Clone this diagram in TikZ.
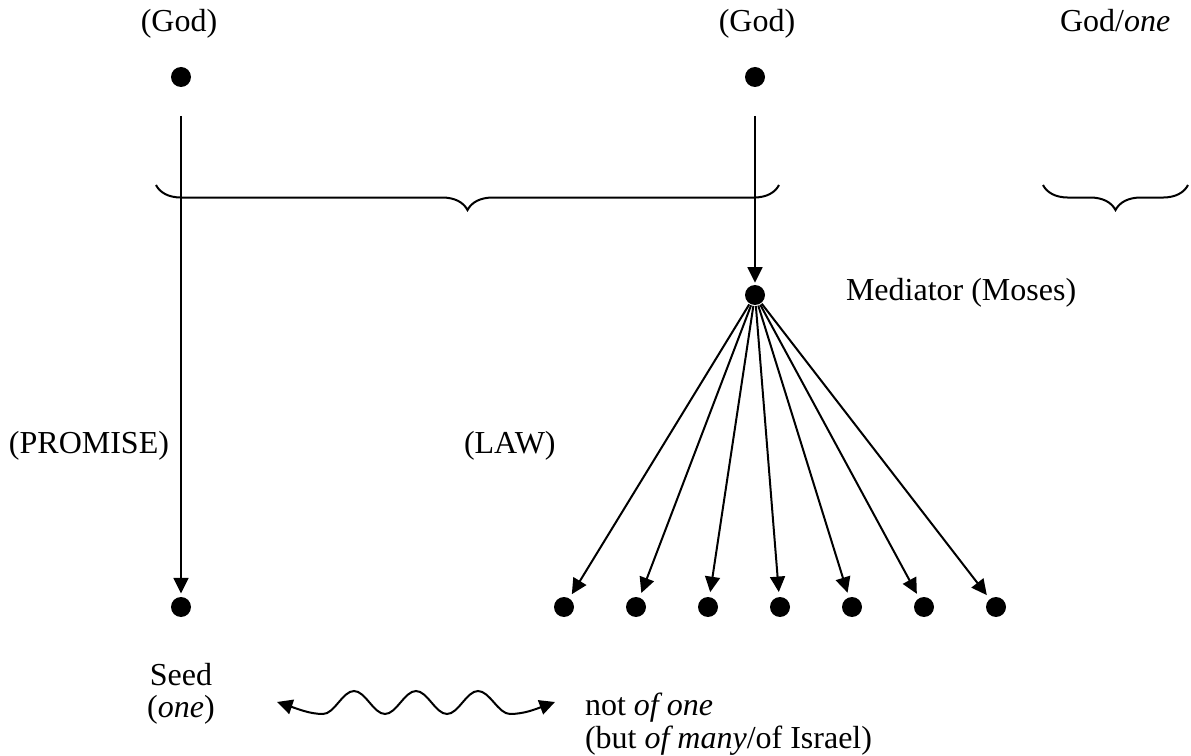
\documentclass[tikz,border=0pt]{standalone}
\usepackage{fontspec}
\setmainfont{Liberation Serif}
\usetikzlibrary{arrows.meta, decorations.pathreplacing}

\begin{document}
\begin{tikzpicture}[x=0.375pt, y=-0.375pt, line width=0.75pt,
    dot/.style={circle, fill, inner sep=0pt, minimum size=7.5pt},
    lbl/.style={inner sep=0pt, font=\fontsize{12}{14}\selectfont},
    arr/.style={-{Triangle[length=5.8pt, width=5.6pt]}},
    grp/.style={decorate, decoration={brace, mirror, amplitude=9.4pt}}]
    \useasboundingbox (0,0) rectangle (1191,756);
    % top row
    \node[lbl, anchor=base] (tgod1) at (179,32) {(God)};
    \node[lbl, anchor=base] (tgod2) at (757,32) {(God)};
    \node[lbl, anchor=base west] (tgod3) at (1059,32) {God/\textit{one}};
    \node[dot] (god1) at (181,77) {};
    \node[dot] (god2) at (755,77) {};
    % braces
    \coordinate (bl1) at (156,185);
    \coordinate (br1) at (779,185);
    \coordinate (bl2) at (1043,185);
    \coordinate (br2) at (1188,185);
    \draw[grp] (bl1) -- (br1);
    \draw[grp] (bl2) -- (br2);
    % mediator
    \node[dot] (med) at (755,295) {};
    \node[lbl, anchor=base west] (tmed) at (845,301) {Mediator (Moses)};
    \draw[arr, shorten <=10.5pt, shorten >=0.5pt] (god2) -- (med);
    % promise
    \node[lbl, anchor=base west] (tprom) at (8,453) {(PROMISE)};
    \node[dot] (seed) at (181,607) {};
    \draw[arr, shorten <=10.5pt, shorten >=1pt] (god1) -- (seed);
    % law
    \node[lbl, anchor=base west] (tlaw) at (463,453) {(LAW)};
    \foreach \x [count=\i] in {564,636,708,780,852,924,996}
        \node[dot] (b\i) at (\x,607) {};
    \foreach \i in {1,...,7}
        \draw[arr, shorten >=1.5pt] (med) -- (b\i);
    % bottom texts
    \node[lbl, anchor=base] (tseed) at (181,685) {Seed};
    \node[lbl, anchor=base] (tone) at (181,717) {(\textit{one})};
    \node[lbl, anchor=base west] (tnot) at (584,716) {not \textit{of one}};
    \node[lbl, anchor=base west] (tmany) at (584,748) {(but \textit{of many}/of Israel)};
    % wavy arrow
    \coordinate (wl) at (277,702);
    \coordinate (wr) at (555,702);
    \draw[{Triangle[length=5.8pt, width=5.6pt]}-{Triangle[length=5.8pt, width=5.6pt]}]
        (wl) .. controls (298,709) and (310,714) .. (323,714)
        cos ++(15.5,-11.5) sin ++(15.5,-11.5) cos ++(15.5,11.5) sin ++(15.5,11.5)
        cos ++(15.5,-11.5) sin ++(15.5,-11.5) cos ++(15.5,11.5) sin ++(15.5,11.5)
        cos ++(15.5,-11.5) sin ++(15.5,-11.5) cos ++(16,11.5) sin ++(16,11.5)
        .. controls (524,714) and (536,709) .. (wr);
\end{tikzpicture}
\end{document}
